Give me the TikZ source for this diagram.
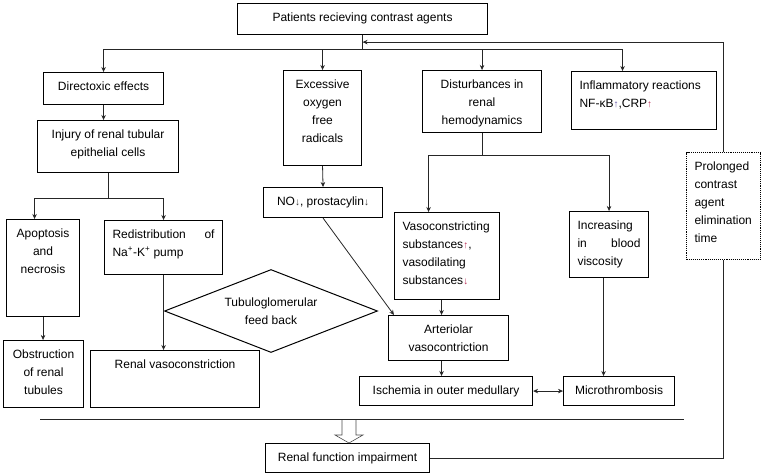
\documentclass[tikz,border=0pt]{standalone}
\usepackage{fontspec}
\setmainfont{Liberation Sans}
\usetikzlibrary{shapes.geometric,arrows.meta}
\definecolor{bluearrow}{RGB}{95,80,160}
\definecolor{redarrow}{RGB}{185,45,85}
% text of a box: width, height, alignment, lines
\newcommand{\boxtxt}[4]{\parbox[t][#2][t]{\dimexpr#1-16pt\relax}{#3\hyphenpenalty=10000\rule{0pt}{17.5pt}#4}}
\newcommand{\up}[1]{{\color{#1}\fontsize{10}{10}\selectfont ↑}}
\newcommand{\dn}[1]{{\color{#1}\fontsize{10}{10}\selectfont ↓}}
\begin{document}
\begin{tikzpicture}[x=1pt, y=-1pt,
    font=\fontsize{12}{18}\selectfont,
    >={Stealth[length=5pt, width=4.5pt]},
    box/.style={draw, line width=1.1pt, anchor=north west, inner xsep=8pt, inner ysep=0pt},
    link/.style={draw=black!85, line width=0.8pt},
    hollow/.style={draw=black!70, line width=0.6pt, fill=white}]
    \useasboundingbox (0,0) rectangle (764,475);

    \node[box] (top) at (237,3) {\boxtxt{250pt}{31pt}{\centering}{Patients recieving contrast agents}};
    \node[box] (direct) at (43,72) {\boxtxt{120pt}{32pt}{\centering}{Directoxic effects}};
    \node[box] (injury) at (37,120) {\boxtxt{141pt}{52pt}{\centering}{Injury of renal tubular\\epithelial cells}};
    \node[box] (excess) at (283,70) {\boxtxt{78pt}{95pt}{\centering}{Excessive\\oxygen\\free\\radicals}};
    \node[box] (disturb) at (422,70) {\boxtxt{119pt}{62pt}{\centering}{Disturbances in\\renal\\hemodynamics}};
    \node[box] (infl) at (571,71) {\boxtxt{145pt}{58pt}{\raggedright}{Inflammatory reactions\\NF-κB\up{bluearrow},CRP\up{redarrow}}};
    \node[box, densely dotted, line width=1pt] (prolong) at (686,152) {\boxtxt{74pt}{107pt}{\raggedright}{Prolonged\\contrast\\agent\\elimination\\time}};
    \node[box] (no) at (263,187) {\boxtxt{119pt}{30pt}{\centering}{NO\dn{black!80}, prostacylin\dn{black!80}}};
    \node[box] (apop) at (6,219) {\boxtxt{73pt}{97pt}{\centering}{Apoptosis\\and\\necrosis}};
    \node[box] (redis) at (104,220) {\boxtxt{118pt}{54pt}{\raggedright}{Redistribution\hfill of\\Na\textsuperscript{+}-K\textsuperscript{+} pump}};
    \node[box] (vasoc) at (394,212) {\boxtxt{105pt}{87pt}{\raggedright}{Vasoconstricting\\substances\up{redarrow},\\vasodilating\\substances\dn{redarrow}}};
    \node[box] (incr) at (569,211) {\boxtxt{79pt}{66pt}{\raggedright}{Increasing\\in\hfill blood\\viscosity}};
    \node[box] (obst) at (3,340) {\boxtxt{80pt}{67pt}{\centering}{Obstruction\\of renal\\tubules}};
    \node[box] (renvaso) at (90,350) {\boxtxt{169pt}{57pt}{\centering}{Renal vasoconstriction}};
    \node[draw, line width=1pt, diamond, aspect=2.5, inner sep=0pt, minimum width=213pt, minimum height=83pt, align=center] (tgf) at (271,311) {Tubuloglomerular\\feed back};
    \node[box] (arter) at (388,315) {\boxtxt{120pt}{45pt}{\centering}{Arteriolar\\vasocontriction}};
    \node[box] (isch) at (359,376) {\boxtxt{173pt}{29pt}{\centering}{Ischemia in outer medullary}};
    \node[box] (micro) at (563,376) {\boxtxt{111pt}{29pt}{\centering}{Microthrombosis}};
    \node[box] (rfi) at (265,443) {\boxtxt{164pt}{29pt}{\centering}{Renal function impairment}};

    % branch points
    \coordinate (br1) at ([yshift=-14pt]top.south);
    \coordinate (fb) at ([yshift=-7pt]top.south);
    \coordinate (br2) at ([yshift=-25pt]injury.south);
    \coordinate (br3) at ([yshift=-22pt]disturb.south);
    \coordinate (sepL) at (40,419);
    \coordinate (sepR) at (684,419);
    \coordinate (fat) at (349,420);

    \draw[link] (top.south) -- (br1);
    \draw[link, ->] (br1) -| (direct.north);
    \draw[link, ->] (br1) -| (excess.north);
    \draw[link, ->] (br1) -| (disturb.north);
    \draw[link, ->] (br1) -| ([xshift=-21.5pt]infl.north);
    \draw[link, ->] (prolong.north) |- (fb);
    \draw[link] (prolong.south) |- (rfi.east);

    \draw[link, ->] (direct.south) -- (direct.south |- injury.north);
    \draw[link] (injury.south) -- (br2);
    \draw[link, ->] (br2) -| ([xshift=-8.5pt]apop.north);
    \draw[link, ->] (br2) -| (redis.north);
    \draw[link, ->] (apop.south) -- (apop.south |- obst.north);
    \draw[link, ->] (redis.south) -- (redis.south |- renvaso.north);

    \draw[link, ->] (excess.south) -- (no.north);
    \draw[link, ->] (no.south) -- ([xshift=6pt]arter.north west);

    \draw[link] (disturb.south) -- (br3);
    \draw[link, ->] (br3) -| ([xshift=-18.5pt]vasoc.north);
    \draw[link, ->] (br3) -| (incr.north);
    \draw[link, ->] ([xshift=-5.5pt]vasoc.south) -- ([xshift=-5.5pt]vasoc.south |- arter.north);
    \draw[link, ->] ([xshift=-7pt]arter.south) -- ([xshift=-7pt]arter.south |- isch.north);
    \draw[link, ->] ([xshift=-5.5pt]incr.south) -- ([xshift=-5.5pt]incr.south |- micro.north);
    \draw[link, <->] (isch) -- (micro);

    \draw[link] (sepL) -- (sepR);
    \draw[hollow] ([xshift=-7pt]fat) -- ++(0,15) -- ++(-7,0) -- (fat |- rfi.north) -- ++(14,-8) -- ++(-7,0) -- ++(0,-15);
\end{tikzpicture}
\end{document}
